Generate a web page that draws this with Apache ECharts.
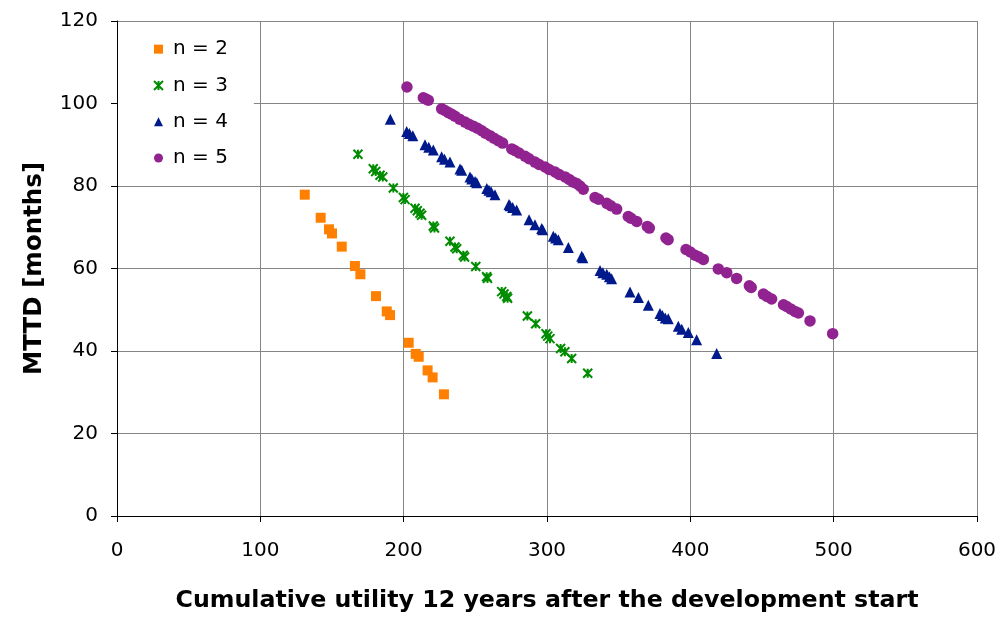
<!DOCTYPE html>
<html>
<head>
<meta charset="utf-8">
<script src="https://cdn.jsdelivr.net/npm/echarts@6/dist/echarts.min.js"></script>
<style>
  html, body { margin: 0; padding: 0; background: #fff; }
  #chart { width: 1003px; height: 618px; }
</style>
</head>
<body>
<div id="chart"></div>
<script>
// data: [cumulative utility, MTTD]
const n2 = [[131,77.9],[142.1,72.3],[147.9,69.5],[150,68.5],[156.8,65.3],[166,60.6],[169.8,58.6],[180.7,53.3],[188.2,49.6],[190.5,48.7],[203.5,42.0],[208.4,39.3],[210.5,38.6],[216.7,35.3],[220.2,33.6],[228.1,29.5]]

const n3 = [[168.1,87.7],[178.8,84.2],[180.5,83.5],[183.5,82.6],[185.4,82.2],[192.8,79.5],[199.8,77.2],[201,76.7],[207.9,74.6],[209.5,74],[211.4,73.4],[212.5,72.9],[220.7,70.3],[221.5,69.8],[232.3,66.6],[235.8,65.2],[237,64.8],[241.6,63.2],[242.5,62.8],[250.3,60.5],[257.9,58],[258.5,57.6],[268.4,54.4],[270,53.8],[271.9,53.2],[272.5,52.8],[286.3,48.5],[292.1,46.6],[299.3,44.2],[300.5,43.6],[302.1,43],[309.5,40.6],[312.5,39.8],[317.2,38.2],[328.4,34.6]]

const n4 = [[190.7,96.2],[202.1,93.2],[204,92.7],[206.4,92.2],[214.9,90],[217.5,89.4],[220.7,88.7],[226.5,87.1],[228.5,86.5],[232.3,85.8],[239.3,84.1],[240.5,83.8],[246.3,82.2],[247.5,81.7],[249.8,81.1],[251,80.8],[258,79.4],[259.5,79],[261,78.6],[263.7,77.9],[273.5,75.5],[274.2,75.2],[276,74.8],[278.8,74.2],[287.5,71.8],[291.6,70.6],[296.3,69.7],[297,69.4],[304.4,67.8],[306,67.4],[307.9,67],[314.9,65.1],[324.2,63],[325,62.6],[337,59.5],[339,59],[341.7,58.6],[343.5,58],[345.1,57.5],[357.9,54.3],[363.8,53],[370.7,51.1],[378.8,49.1],[380.5,48.6],[382.5,48],[384.6,47.8],[391.6,46],[394,45.3],[398.6,44.5],[404.4,42.7],[418.4,39.4]]

const n5 = [[202.3,104],[213.7,101.4],[215.5,101.1],[217.2,100.8],[226.5,98.7],[228.8,98.3],[231.2,97.8],[233.5,97.4],[235.8,96.9],[239,96.2],[242.8,95.5],[245.5,95],[248.6,94.5],[251.5,94],[254.5,93.4],[257,92.8],[260.2,92.2],[263,91.6],[266,91],[269,90.4],[275.4,89],[277.5,88.6],[280.5,88],[284.7,87.2],[287.5,86.6],[291.6,85.8],[294.5,85.2],[298.6,84.6],[301.5,84],[305.6,83.4],[308.5,82.8],[312.6,82.2],[315.5,81.6],[318,81],[320.7,80.6],[323,80],[325.3,79.2],[333.5,77.2],[336,76.8],[341.7,75.8],[344.5,75.2],[348.6,74.4],[356.7,72.6],[358.5,72.2],[362.6,71.4],[370,70.2],[371.4,69.8],[383,67.4],[384.5,67],[397,64.6],[400,64],[403.3,63.2],[406,62.8],[409.1,62.2],[419.5,59.9],[425.4,59],[432.3,57.6],[441.2,55.8],[442.5,55.4],[451,53.8],[453.5,53.2],[456.7,52.6],[465,51.2],[467.2,50.8],[470,50.2],[473,49.6],[475.4,49.2],[483.5,47.3],[499.3,44.2]]

const seriesNames = ['n = 2', 'n = 3', 'n = 4', 'n = 5']
const FONT = 'DejaVu Sans, Arial, sans-serif'

// asterisk marker like the spreadsheet "star"
const starPath = 'path://M0,0L10,10M10,0L0,10M5,0L5,10'

const chart = echarts.init(document.getElementById('chart'), null, {renderer: 'canvas'})

chart.setOption({
  animation: false,
  backgroundColor: '#fff',
  grid: {left: 117, right: 26, top: 21, bottom: 97, containLabel: false},
  legend: {
    orient: 'vertical',
    left: 118,
    top: 22,
    backgroundColor: '#fff',
    padding: [15, 26, 12, 35],
    itemGap: 12,
    itemWidth: 9,
    itemHeight: 9,
    textStyle: {fontFamily: FONT, fontSize: 20, color: '#000', lineHeight: 24.3, padding: [0, 0, 0, 5]},
    data: seriesNames
  },
  xAxis: {
    type: 'value',
    min: 0, max: 600, interval: 100,
    name: 'Cumulative utility 12 years after the development start',
    nameLocation: 'middle',
    nameGap: 73,
    nameTextStyle: {fontFamily: FONT, fontSize: 23.7, fontWeight: 'bold', color: '#000'},
    axisLine: {show: true, onZero: false, lineStyle: {color: '#000', width: 1}},
    axisTick: {show: true, length: 6, lineStyle: {color: '#000'}},
    axisLabel: {fontFamily: FONT, fontSize: 20, color: '#000', margin: 25},
    splitLine: {show: true, lineStyle: {color: '#858585', width: 1}}
  },
  yAxis: {
    type: 'value',
    min: 0, max: 120, interval: 20,
    name: 'MTTD [months]',
    nameLocation: 'middle',
    nameGap: 70,
    nameTextStyle: {fontFamily: FONT, fontSize: 24.5, fontWeight: 'bold', color: '#000'},
    axisLine: {show: true, onZero: false, lineStyle: {color: '#000', width: 1}},
    axisTick: {show: true, length: 6, lineStyle: {color: '#000'}},
    axisLabel: {fontFamily: FONT, fontSize: 20, color: '#000', margin: 19},
    splitLine: {show: true, lineStyle: {color: '#858585', width: 1}}
  },
  series: [
    {
      name: seriesNames[0], type: 'scatter', data: n2,
      symbol: 'rect', symbolSize: 10,
      itemStyle: {color: '#FF8000', opacity: 1}
    },
    {
      name: seriesNames[1], type: 'scatter', data: n3,
      symbol: starPath, symbolSize: 9,
      itemStyle: {color: 'rgba(0,0,0,0)', borderColor: '#008C00', borderWidth: 2, opacity: 1}
    },
    {
      name: seriesNames[2], type: 'scatter', data: n4,
      symbol: 'triangle', symbolSize: 11,
      itemStyle: {color: '#001A8C', opacity: 1}
    },
    {
      name: seriesNames[3], type: 'scatter', data: n5,
      symbol: 'circle', symbolSize: 11.5,
      itemStyle: {color: '#912391', opacity: 1}
    }
  ]
})
</script>
</body>
</html>
